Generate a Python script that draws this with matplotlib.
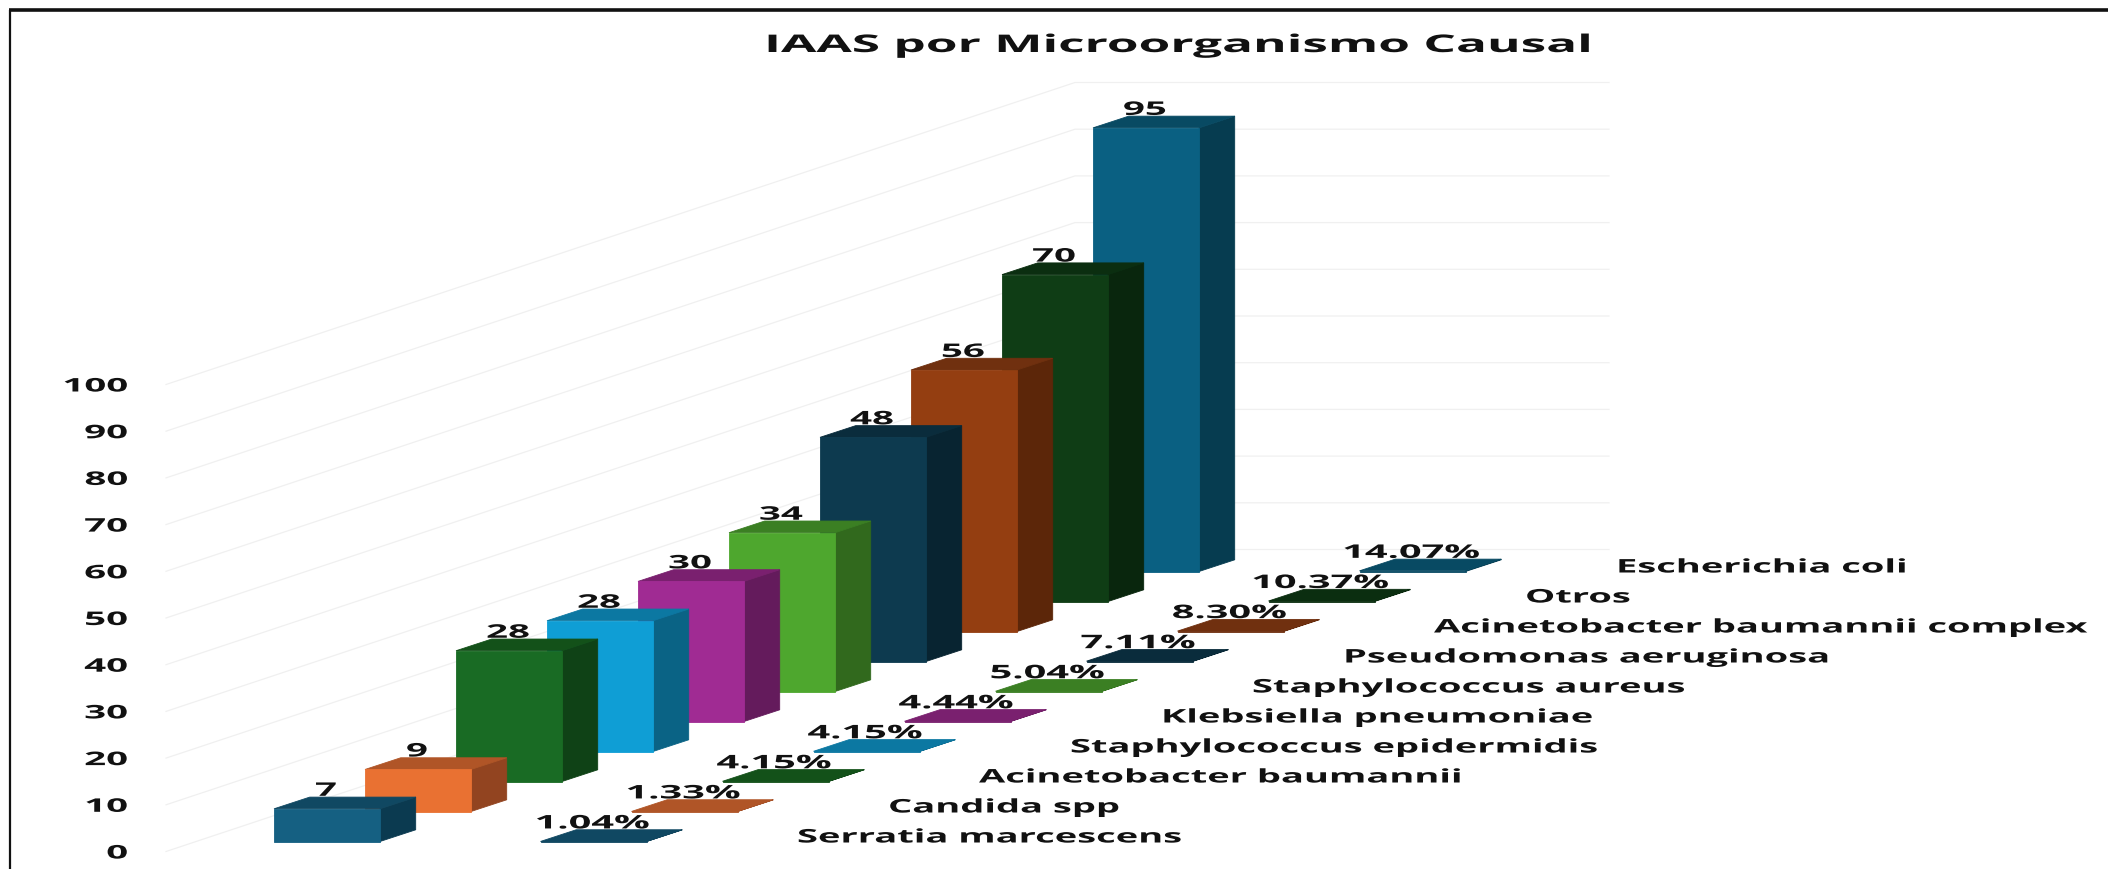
import matplotlib
matplotlib.use("Agg")
import matplotlib.pyplot as plt
from matplotlib.patches import Polygon
from matplotlib.patheffects import AbstractPathEffect
from matplotlib.transforms import Affine2D

plt.rcParams["font.family"] = ["Open Sans", "DejaVu Sans"]

# Data, first category at the front of the chart
categories = ["Serratia marcescens", "Candida spp", "Acinetobacter baumannii",
              "Staphylococcus epidermidis", "Klebsiella pneumoniae",
              "Staphylococcus aureus", "Pseudomonas aeruginosa",
              "Acinetobacter baumannii complex", "Otros", "Escherichia coli"]
counts = [7, 9, 28, 28, 30, 34, 48, 56, 70, 95]
percents = [1.04, 1.33, 4.15, 4.15, 4.44, 5.04, 7.11, 8.30, 10.37, 14.07]
y_ticks = [0, 10, 20, 30, 40, 50, 60, 70, 80, 90, 100]

front_colors = ["#156082", "#E97132", "#196B24", "#0F9ED5", "#A02B93",
                "#4EA72E", "#0D3A4F", "#943E11", "#0F3D15", "#0A6082"]
top_colors = ["#104862", "#B05527", "#135119", "#0C78A2", "#7A206F",
              "#3B7F23", "#0A2C3C", "#70300F", "#0B2E10", "#084A63"]
side_colors = ["#0B3A50", "#924420", "#0F4216", "#0A6385", "#641B5C",
               "#31691D", "#082431", "#5C2609", "#09260D", "#063C50"]

# Oblique projection, in pixels
UNIT = 4.67          # one value unit
STEP_X, STEP_Y = 91.0, 30.0   # one category back
DEPTH_X, DEPTH_Y = 35.7, 11.7  # bar depth
BAR_W = 106.0
X0, Y0 = 274.0, 842.5
ROW2_DX = 266.5      # second row of the chart (percentages)
LABEL_DX = 523.0     # category names
GRID_X0, GRID_X1, GRID_X2 = 166.0, 1075.0, 1609.0
GRID_Y0, GRID_Y1 = 852.5, 550.5

TEXT = "#111111"


class Widen(AbstractPathEffect):
    """Stretches a text sideways about its anchor, the source picture is wide."""
    def __init__(self, x0, factor):
        super().__init__()
        self.x0 = x0
        self.factor = factor

    def draw_path(self, renderer, gc, tpath, affine, rgbFace=None):
        stretch = Affine2D().translate(-self.x0, 0).scale(self.factor, 1).translate(self.x0, 0)
        renderer.draw_path(gc, tpath, affine + stretch, rgbFace)


def label(ax, x, y, s, size=13.5, factor=2.05, **kw):
    t = ax.text(x, y, s, fontsize=size, fontweight="bold", color=TEXT, va="center", **kw)
    t.set_path_effects([Widen(x, factor)])
    return t


def draw_bar(ax, i, value, dx, front, top, side):
    x = X0 + dx + i * STEP_X
    base = Y0 - i * STEP_Y
    h = base - value * UNIT
    x1 = x + BAR_W
    kw = dict(closed=True, linewidth=0.6)
    ax.add_patch(Polygon([(x1, base), (x1 + DEPTH_X, base - DEPTH_Y),
                          (x1 + DEPTH_X, h - DEPTH_Y), (x1, h)], fc=side, ec=side, **kw))
    ax.add_patch(Polygon([(x, h), (x1, h), (x1 + DEPTH_X, h - DEPTH_Y),
                          (x + DEPTH_X, h - DEPTH_Y)], fc=top, ec=top, **kw))
    ax.add_patch(Polygon([(x, base), (x1, base), (x1, h), (x, h)], fc=front, ec=front, **kw))
    return x + BAR_W / 2, h


fig = plt.figure(figsize=(21.08, 8.70), dpi=100, facecolor="white")
ax = fig.add_axes([0, 0, 1, 1])
ax.set_xlim(0, 2108)
ax.set_ylim(870, 0)
ax.axis("off")

# Frame of the pasted picture
ax.plot([10, 10], [870, 11], color="#111111", lw=1.6, solid_capstyle="butt")
ax.plot([9, 2108], [11, 11], color="#111111", lw=2.6, solid_capstyle="butt")

# Walls and value axis
for v in y_ticks:
    off = v * UNIT
    ax.plot([GRID_X0, GRID_X1, GRID_X2], [GRID_Y0 - off, GRID_Y1 - off, GRID_Y1 - off],
            color="#F0F0F0", lw=0.9, zorder=1)
    label(ax, 128, GRID_Y0 - off + 2, str(v), ha="right")

# Back to front so the nearer bars cover the others
for i in range(len(categories) - 1, -1, -1):
    cx, h = draw_bar(ax, i, percents[i] / 100, ROW2_DX, top_colors[i], top_colors[i], side_colors[i])
    label(ax, cx - 1, h - 18, f"{percents[i]:.2f}%", factor=2.12, ha="center")
    label(ax, X0 + LABEL_DX + i * STEP_X, Y0 - 4 - i * STEP_Y, categories[i], factor=2.03, ha="left")

for i in range(len(categories) - 1, -1, -1):
    cx, h = draw_bar(ax, i, counts[i], 0, front_colors[i], top_colors[i], side_colors[i])
    label(ax, cx - 1, h - 18, str(counts[i]), ha="center", zorder=5)

label(ax, 1178, 47, "IAAS por Microorganismo Causal", size=17.5, factor=2.11, ha="center")

fig.savefig("out.png", dpi=100)
